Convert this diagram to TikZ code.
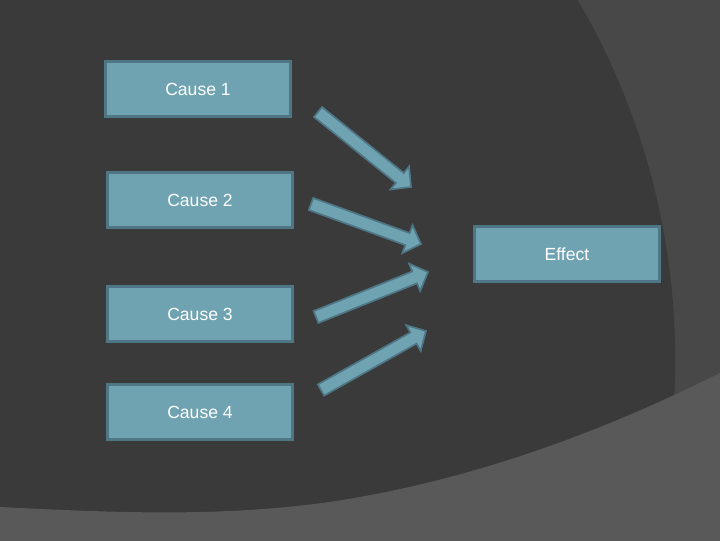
\documentclass[tikz,border=0pt]{standalone}
\usepackage{fontspec}
\setmainfont{Liberation Sans}
\usepackage{xcolor}
\usetikzlibrary{calc}
\definecolor{bgdark}{HTML}{3A3A3A}
\definecolor{bgmid}{HTML}{484848}
\definecolor{bglight}{HTML}{595959}
\definecolor{boxfill}{HTML}{6FA3B2}
\definecolor{boxline}{HTML}{4E7685}

\begin{document}
\begin{tikzpicture}[x=0.025cm, y=-0.025cm,
    causebox/.style={draw=boxline, line width=2pt, fill=boxfill, minimum width=4.63cm,
        minimum height=1.38cm, inner sep=0pt, text=white, font=\fontsize{12.5}{15}\selectfont},
    blockarrow/.style={draw=boxline, line width=1.2pt, fill=boxfill, line join=miter}]
% Background
\useasboundingbox (0,0) rectangle (720,540);
\begin{scope}
    \clip (-10,-10) rectangle (730,550);
    \fill[bgmid] (-10,-10) rectangle (730,550);
    \fill[bgdark] (-37,360) circle (17.8cm);
    \fill[bglight] (-10,507) -- (0,507) .. controls (120,513) and (240,518.5) .. (360,497)
        .. controls (480,475.5) and (600,433) .. (720,373) -- (730,368) -- (730,550) -- (-10,550) -- cycle;
\end{scope}
% Boxes
\node[causebox] (cause1) at (198,89) {Cause 1};
\node[causebox] (cause2) at (200,200) {Cause 2};
\node[causebox] (cause3) at (200,314) {Cause 3};
\node[causebox] (cause4) at (200,412) {Cause 4};
\node[causebox] (effect) at (567,254) {Effect};
% Arrows
\coordinate (from1) at (318,112);
\coordinate (to1) at (411,187);
\coordinate (from2) at (311,204);
\coordinate (to2) at (421,244);
\coordinate (from3) at (316,317);
\coordinate (to3) at (428,272);
\coordinate (from4) at (321,390);
\coordinate (to4) at (426,331);
\foreach \i in {1,...,4} {
    \coordinate (head\i) at ($(to\i)!0.36cm!(from\i)$);
    \draw[blockarrow] ($(from\i)!0.16cm!90:(to\i)$) -- ($(head\i)!0.16cm!90:(to\i)$)
        -- ($(head\i)!0.37cm!90:(to\i)$) -- (to\i) -- ($(head\i)!0.37cm!-90:(to\i)$)
        -- ($(head\i)!0.16cm!-90:(to\i)$) -- ($(from\i)!0.16cm!-90:(to\i)$) -- cycle;
}
\end{tikzpicture}
\end{document}
